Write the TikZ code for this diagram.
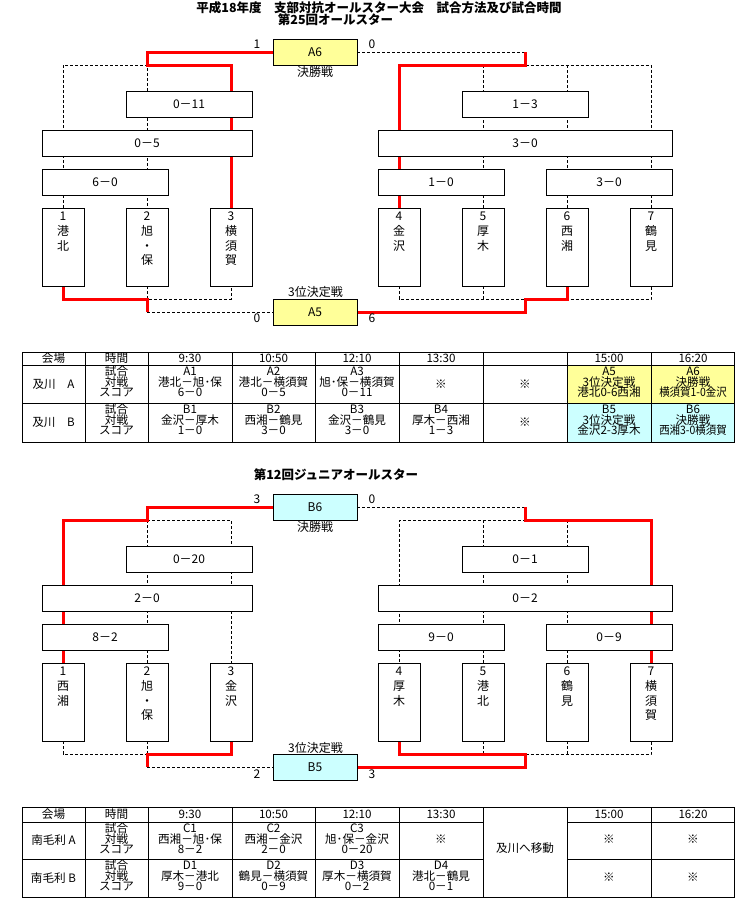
\documentclass[tikz,border=0pt]{standalone}
\usepackage{fontspec}
\setmainfont{Noto Sans CJK JP}
\usetikzlibrary{backgrounds}
\definecolor{ylw}{HTML}{FFFF99}
\definecolor{cyn}{HTML}{CCFFFF}
\definecolor{redline}{HTML}{FF0000}
\newcommand\teamtext[4]{\foreach \tname [count=\i from 0] in {#4} {\node[tl] (#1-\i) at (#2,{#3+14.8*\i}) {\tname};}}
\newcommand\cellthree[6]{\node[tt] (#1a) at (#2,{#3+6}) {#4};\node[tt] (#1b) at (#2,{#3+16.8}) {#5};\node[tt] (#1c) at (#2,{#3+27.6}) {#6};}
\begin{document}
\begin{tikzpicture}[x=1pt,y=-1pt,
 sbox/.style={draw,line width=0.9pt,fill=white,inner sep=0pt,minimum height=26pt,font=\fontsize{12}{14}\selectfont,text height=9pt,text depth=0pt},
 tbox/.style={draw,line width=0.9pt,fill=white,inner sep=0pt,minimum width=42pt,minimum height=78pt},
 tl/.style={inner sep=0pt,font=\fontsize{12}{14}\selectfont,text height=9pt,text depth=0pt},
 tt/.style={inner sep=0pt,font=\fontsize{11.6}{13}\selectfont,text height=8.7pt,text depth=0pt},
 ttl/.style={inner sep=0pt,font=\bfseries\fontsize{12.5}{14}\selectfont,text height=9.4pt,text depth=0pt},
 win/.style={draw=redline,line width=3pt,line join=miter},
 dsh/.style={draw=black,line width=0.8pt,dash pattern=on 3pt off 2pt},
 tgrid/.style={draw=black,line width=0.9pt}]
\useasboundingbox (0,0) rectangle (737,898);
% titles
\node[ttl] (title1) at (379,8) {平成18年度　支部対抗オールスター大会　試合方法及び試合時間};
\node[ttl] (title2) at (335.5,20) {第25回オールスター};
\node[ttl] (title3) at (336,475) {第12回ジュニアオールスター};
% ===== top bracket =====
\node[sbox,fill=ylw,minimum width=84pt] (A6) at (315,52) {A6};
\node[sbox,fill=ylw,minimum width=84pt] (A5) at (315,312) {A5};
\node[sbox,minimum width=126pt] (s1) at (189,104) {0－11};
\node[sbox,minimum width=210pt] (s2) at (147,143) {0－5};
\node[sbox,minimum width=126pt] (s3) at (105,182) {6－0};
\node[sbox,minimum width=126pt] (s4) at (525,104) {1－3};
\node[sbox,minimum width=294pt] (s5) at (525,143) {3－0};
\node[sbox,minimum width=126pt] (s6) at (441,182) {1－0};
\node[sbox,minimum width=126pt] (s7) at (609,182) {3－0};
\node[tbox] (t1) at (63,247) {};
\node[tbox] (t2) at (147,247) {};
\node[tbox] (t3) at (231,247) {};
\node[tbox] (t4) at (399,247) {};
\node[tbox] (t5) at (483,247) {};
\node[tbox] (t6) at (567,247) {};
\node[tbox] (t7) at (651,247) {};
\teamtext{t1t}{63}{216}{1,港,北}
\teamtext{t2t}{147}{216}{2,旭,・,保}
\teamtext{t3t}{231}{216}{3,横,須,賀}
\teamtext{t4t}{399}{216}{4,金,沢}
\teamtext{t5t}{483}{216}{5,厚,木}
\teamtext{t6t}{567}{216}{6,西,湘}
\teamtext{t7t}{651}{216}{7,鶴,見}
\node[tl] (a6l) at (257,44) {1};
\node[tl] (a6r) at (372,44) {0};
\node[tl] (a6c) at (315,72) {決勝戦};
\node[tl] (a5c) at (315.5,292) {3位決定戦};
\node[tl] (a5l) at (257,318) {0};
\node[tl] (a5r) at (372,318) {6};
\coordinate (aL) at (147,65);
\coordinate (aR) at (525.5,65);
\coordinate (bL) at (147,299);
\coordinate (bR) at (525.5,299);
% ===== bottom bracket =====
\node[sbox,fill=cyn,minimum width=84pt] (B6) at (315,507) {B6};
\node[sbox,fill=cyn,minimum width=84pt] (B5) at (315,767) {B5};
\node[sbox,minimum width=126pt] (r1) at (189,559) {0－20};
\node[sbox,minimum width=210pt] (r2) at (147,598) {2－0};
\node[sbox,minimum width=126pt] (r3) at (105,637) {8－2};
\node[sbox,minimum width=126pt] (r4) at (525,559) {0－1};
\node[sbox,minimum width=294pt] (r5) at (525,598) {0－2};
\node[sbox,minimum width=126pt] (r6) at (441,637) {9－0};
\node[sbox,minimum width=126pt] (r7) at (609,637) {0－9};
\node[tbox] (u1) at (63,702) {};
\node[tbox] (u2) at (147,702) {};
\node[tbox] (u3) at (231,702) {};
\node[tbox] (u4) at (399,702) {};
\node[tbox] (u5) at (483,702) {};
\node[tbox] (u6) at (567,702) {};
\node[tbox] (u7) at (651,702) {};
\teamtext{u1t}{63}{671}{1,西,湘}
\teamtext{u2t}{147}{671}{2,旭,・,保}
\teamtext{u3t}{231}{671}{3,金,沢}
\teamtext{u4t}{399}{671}{4,厚,木}
\teamtext{u5t}{483}{671}{5,港,北}
\teamtext{u6t}{567}{671}{6,鶴,見}
\teamtext{u7t}{651}{671}{7,横,須,賀}
\node[tl] (b6l) at (257,499) {3};
\node[tl] (b6r) at (372,499) {0};
\node[tl] (b6c) at (315,527) {決勝戦};
\node[tl] (b5c) at (315.5,748) {3位決定戦};
\node[tl] (b5l) at (257,774) {2};
\node[tl] (b5r) at (372,774) {3};
\coordinate (cL) at (147,520);
\coordinate (cR) at (525.5,520);
\coordinate (dL) at (147,754);
\coordinate (dR) at (525.5,754);
% ===== connectors =====
\begin{pgfonlayer}{background}
\fill[white] (0,0) rectangle (737,898);
% top bracket dashed
\draw[dsh] (t1.north) |- (aL) -- (t2.north);
\draw[dsh] (A6.east) -| (aR);
\draw[dsh] (aR) -| (t7.north);
\draw[dsh] (t5.north) -- (t5.north |- aR);
\draw[dsh] (t6.north) -- (t6.north |- aR);
\draw[dsh] (t2.south) -- (bL) -| (t3.south);
\draw[dsh] (bL |- A5.west) -- (A5.west);
\draw[dsh] (t4.south) |- (bR);
\draw[dsh] (t5.south) -- (t5.south |- bR);
\draw[dsh] (bR) -| (t7.south);
% top bracket red
\draw[win] (A6.west) -| (aL) -| (t3.north);
\draw[win] (aR |- A6.east) -- (aR) -| (t4.north);
\draw[win] (t1.south) |- (bL) -- (bL |- A5.west);
\draw[win] (A5.east) -| (bR) -| (t6.south);
% bottom bracket dashed
\draw[dsh] (cL) -| (u3.north);
\draw[dsh] (cL) -- (u2.north);
\draw[dsh] (B6.east) -| (cR);
\draw[dsh] (cR) -| (u4.north);
\draw[dsh] (u5.north) -- (u5.north |- cR);
\draw[dsh] (u6.north) -- (u6.north |- cR);
\draw[dsh] (dL |- B5.west) -- (B5.west);
\draw[dsh] (u1.south) |- (dL);
\draw[dsh] (u2.south) -- (dL);
\draw[dsh] (u5.south) -- (u5.south |- dR);
\draw[dsh] (dR) -| (u7.south);
\draw[dsh] (u6.south) -- (u6.south |- dR);
% bottom bracket red
\draw[win] (B6.west) -| (cL) -| (u1.north);
\draw[win] (cR |- B6.east) -- (cR) -| (u7.north);
\draw[win] (u3.south) |- (dL) -- (dL |- B5.west);
\draw[win] (u4.south) |- (dR) -- (dR |- B5.east) -- (B5.east);
\end{pgfonlayer}
% ===== table 1 =====
\fill[ylw] (567,365) rectangle (734.5,403);
\fill[cyn] (567,403) rectangle (734.5,442);
\draw[tgrid] (22,352) rectangle (734.5,442);
\foreach \yy in {365,403} \draw[tgrid] (22,\yy) -- (734.5,\yy);
\foreach \xx in {85,148,232,315,399,483,567,651} \draw[tgrid] (\xx,352) -- (\xx,442);
\node[tt] (h1a) at (53.5,358.5) {会場};
\node[tt] (h1b) at (116.5,358.5) {時間};
\node[tt] (h1c) at (190,358.5) {9:30};
\node[tt] (h1d) at (273.5,358.5) {10:50};
\node[tt] (h1e) at (357,358.5) {12:10};
\node[tt] (h1f) at (441,358.5) {13:30};
\node[tt] (h1g) at (609,358.5) {15:00};
\node[tt] (h1h) at (693,358.5) {16:20};
\node[tt] (ra) at (53.5,384) {及川　A};
\cellthree{ra0}{116.5}{365}{試合}{対戦}{スコア}
\cellthree{ra1}{190}{365}{A1}{港北－旭･保}{6－0}
\cellthree{ra2}{273.5}{365}{A2}{港北－横須賀}{0－5}
\cellthree{ra3}{357}{365}{A3}{旭･保－横須賀}{0－11}
\node[tt] (ra4) at (441,384) {※};
\node[tt] (ra5) at (525,384) {※};
\cellthree{ra6}{609}{365}{A5}{3位決定戦}{港北0-6西湘}
\cellthree{ra7}{693}{365}{A6}{決勝戦}{\scalebox{0.9}[1]{横須賀1-0金沢}}
\node[tt] (rb) at (53.5,422.5) {及川　B};
\cellthree{rb0}{116.5}{403}{試合}{対戦}{スコア}
\cellthree{rb1}{190}{403}{B1}{金沢－厚木}{1－0}
\cellthree{rb2}{273.5}{403}{B2}{西湘－鶴見}{3－0}
\cellthree{rb3}{357}{403}{B3}{金沢－鶴見}{3－0}
\cellthree{rb4}{441}{403}{B4}{厚木－西湘}{1－3}
\node[tt] (rb5) at (525,422.5) {※};
\cellthree{rb6}{609}{403}{B5}{3位決定戦}{金沢2-3厚木}
\cellthree{rb7}{693}{403}{B6}{決勝戦}{\scalebox{0.9}[1]{西湘3-0横須賀}}
% ===== table 2 =====
\draw[tgrid] (22,807) rectangle (734.5,897);
\foreach \yy in {822,859} {\draw[tgrid] (22,\yy) -- (483,\yy); \draw[tgrid] (567,\yy) -- (734.5,\yy);}
\foreach \xx in {85,148,232,315,399,483,567,651} \draw[tgrid] (\xx,807) -- (\xx,897);
\node[tt] (h2a) at (53.5,814.5) {会場};
\node[tt] (h2b) at (116.5,814.5) {時間};
\node[tt] (h2c) at (190,814.5) {9:30};
\node[tt] (h2d) at (273.5,814.5) {10:50};
\node[tt] (h2e) at (357,814.5) {12:10};
\node[tt] (h2f) at (441,814.5) {13:30};
\node[tt] (h2g) at (609,814.5) {15:00};
\node[tt] (h2h) at (693,814.5) {16:20};
\node[tt] (move) at (525,848) {及川へ移動};
\node[tt] (qa) at (53.5,840) {南毛利 A};
\cellthree{qa0}{116.5}{822}{試合}{対戦}{スコア}
\cellthree{qa1}{190}{822}{C1}{西湘－旭･保}{8－2}
\cellthree{qa2}{273.5}{822}{C2}{西湘－金沢}{2－0}
\cellthree{qa3}{357}{822}{C3}{旭･保－金沢}{0－20}
\node[tt] (qa4) at (441,839) {※};
\node[tt] (qa6) at (609,839) {※};
\node[tt] (qa7) at (693,839) {※};
\node[tt] (qb) at (53.5,878) {南毛利 B};
\cellthree{qb0}{116.5}{859}{試合}{対戦}{スコア}
\cellthree{qb1}{190}{859}{D1}{厚木－港北}{9－0}
\cellthree{qb2}{273.5}{859}{D2}{鶴見－横須賀}{0－9}
\cellthree{qb3}{357}{859}{D3}{厚木－横須賀}{0－2}
\cellthree{qb4}{441}{859}{D4}{港北－鶴見}{0－1}
\node[tt] (qb6) at (609,877) {※};
\node[tt] (qb7) at (693,877) {※};
\end{tikzpicture}
\end{document}
